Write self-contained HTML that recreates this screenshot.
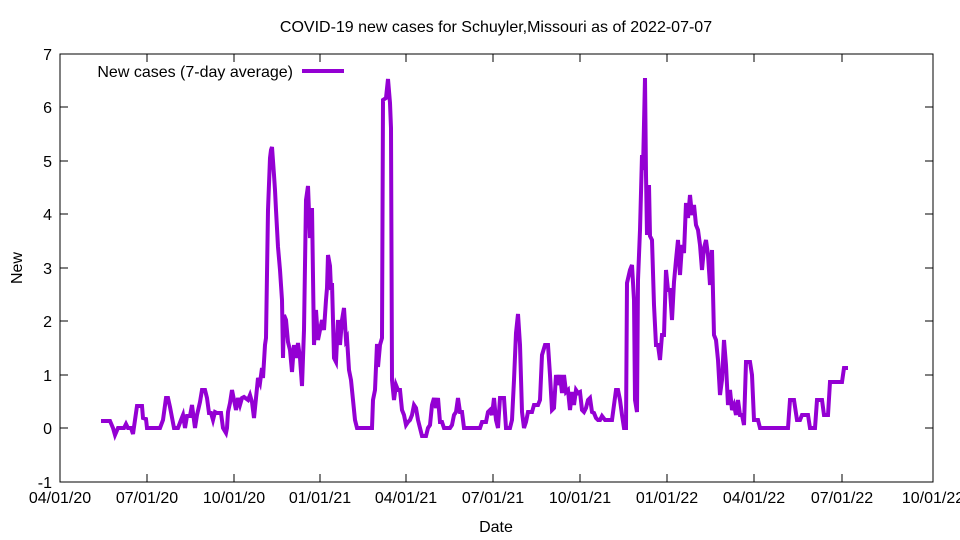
<!DOCTYPE html>
<html><head><style>body{margin:0;background:#fff}svg{display:block}</style></head><body>
<svg width="960" height="540" xmlns="http://www.w3.org/2000/svg" font-family="Liberation Sans, sans-serif" font-size="16">
<rect x="60" y="54" width="873" height="428" fill="none" stroke="#000" stroke-width="1"/>
<g stroke="#000" stroke-width="1">
<path d="M60 54h8M60 107h8M60 161h8M60 214h8M60 268h8M60 321h8M60 375h8M60 428h8M60 482h8
M933 54h-8M933 107h-8M933 161h-8M933 214h-8M933 268h-8M933 321h-8M933 375h-8M933 428h-8M933 482h-8
M60 482v-8M147 482v-8M234 482v-8M320 482v-8M406 482v-8M493 482v-8M580 482v-8M667 482v-8M754 482v-8M842 482v-8M933 482v-8
M60 54v8M147 54v8M234 54v8M320 54v8M406 54v8M493 54v8M580 54v8M667 54v8M754 54v8M842 54v8M933 54v8"/>
</g>
<g text-anchor="end">
<text x="52" y="60">7</text><text x="52" y="113">6</text><text x="52" y="167">5</text><text x="52" y="220">4</text><text x="52" y="274">3</text><text x="52" y="327">2</text><text x="52" y="381">1</text><text x="52" y="434">0</text><text x="52" y="488">-1</text>
</g>
<g text-anchor="middle">
<text x="60" y="503">04/01/20</text><text x="147" y="503">07/01/20</text><text x="234" y="503">10/01/20</text><text x="320" y="503">01/01/21</text><text x="406" y="503">04/01/21</text><text x="493" y="503">07/01/21</text><text x="580" y="503">10/01/21</text><text x="667" y="503">01/01/22</text><text x="754" y="503">04/01/22</text><text x="842" y="503">07/01/22</text><text x="933" y="503">10/01/22</text>
<text x="496" y="532">Date</text>
<text x="496" y="32">COVID-19 new cases for Schuyler,Missouri as of 2022-07-07</text>
</g>
<text x="22" y="268" text-anchor="middle" transform="rotate(-90 22 268)">New</text>
<text x="293" y="77" text-anchor="end">New cases (7-day average)</text>
<line x1="302" y1="71" x2="344" y2="71" stroke="#9400d3" stroke-width="4"/>
<polyline fill="none" stroke="#9400d3" stroke-width="4" stroke-linejoin="miter" points="101,421 110,421 113,428 115,435 118,428 124,428 126,424 128,428 131,428 133,434 135,420 137,406 142,406 143,418 146,419 147,428 160,428 163,420 166,398 168,398 170,407 174,428 178,428 181,420 183,415 185,428 187,416 190,416 192,405 195,428 197,415 200,402 202,390 205,390 207,398 209,413 211,413 213,420 215,412 217,413 221,413 223,428 226,433 227,428 228,412 230,403 232,390 234,400 236,410 238,398 240,405 242,398 244,397 248,400 250,395 252,402 254,418 256,398 258,378 260,383 262,368 263,378 265,345 266,338 268,210 270,158 271,150 272,147 274,175 275,190 276,210 278,247 280,270 282,300 283,358 284,315 286,320 288,342 290,350 292,372 294,345 296,358 298,343 300,358 302,386 304,330 306,200 308,186 310,238 312,208 314,345 316,310 318,340 320,330 322,320 324,330 326,300 327,288 328,255 330,266 331,290 332,283 334,358 336,362 338,320 340,345 342,320 344,308 346,340 347,338 349,370 351,380 353,400 355,420 357,428 372,428 373,400 375,390 377,344 378,367 380,345 382,338 383,100 386,98 388,79 390,103 391,128 392,380 394,400 396,385 398,390 400,390 402,410 404,415 406,425 408,422 410,420 412,415 414,405 416,408 418,420 420,428 422,436 426,436 428,428 430,425 432,405 434,398 436,408 438,398 440,422 442,422 444,428 450,428 452,425 454,415 456,412 458,398 460,412 462,412 464,428 480,428 482,422 486,422 488,412 490,410 492,415 494,398 496,420 498,428 500,398 504,398 506,428 510,428 512,420 514,380 516,333 518,314 520,345 522,412 524,428 526,422 528,412 532,412 534,405 538,405 540,400 542,355 545,345 548,345 550,375 552,410 554,408 556,375 558,385 560,375 562,393 564,375 566,392 568,390 570,410 572,392 574,405 576,390 578,393 580,392 582,410 584,412 586,408 588,400 590,398 592,412 594,413 596,418 598,420 600,420 602,416 605,420 612,420 614,405 616,390 618,390 620,400 622,415 624,428 626,428 627,283 630,270 632,265 634,300 635,400 637,412 638,280 640,230 642,155 643,170 645,78 646,175 647,235 649,185 650,236 652,240 654,305 656,345 658,345 660,360 662,335 664,335 666,270 668,290 670,290 672,320 674,282 676,260 678,240 680,275 682,245 684,253 686,203 688,218 690,195 692,215 694,205 696,225 698,230 700,245 702,270 704,248 706,240 708,255 710,285 712,250 714,335 716,340 718,360 720,395 722,380 724,340 726,365 728,405 730,390 732,410 734,405 736,415 738,400 740,415 742,415 744,425 746,362 750,362 752,375 754,420 758,420 760,428 788,428 790,400 794,400 797,420 800,420 802,415 808,415 810,428 815,428 817,400 822,400 824,415 828,415 830,382 842,382 844,368 848,368"/>
</svg>
</body></html>
